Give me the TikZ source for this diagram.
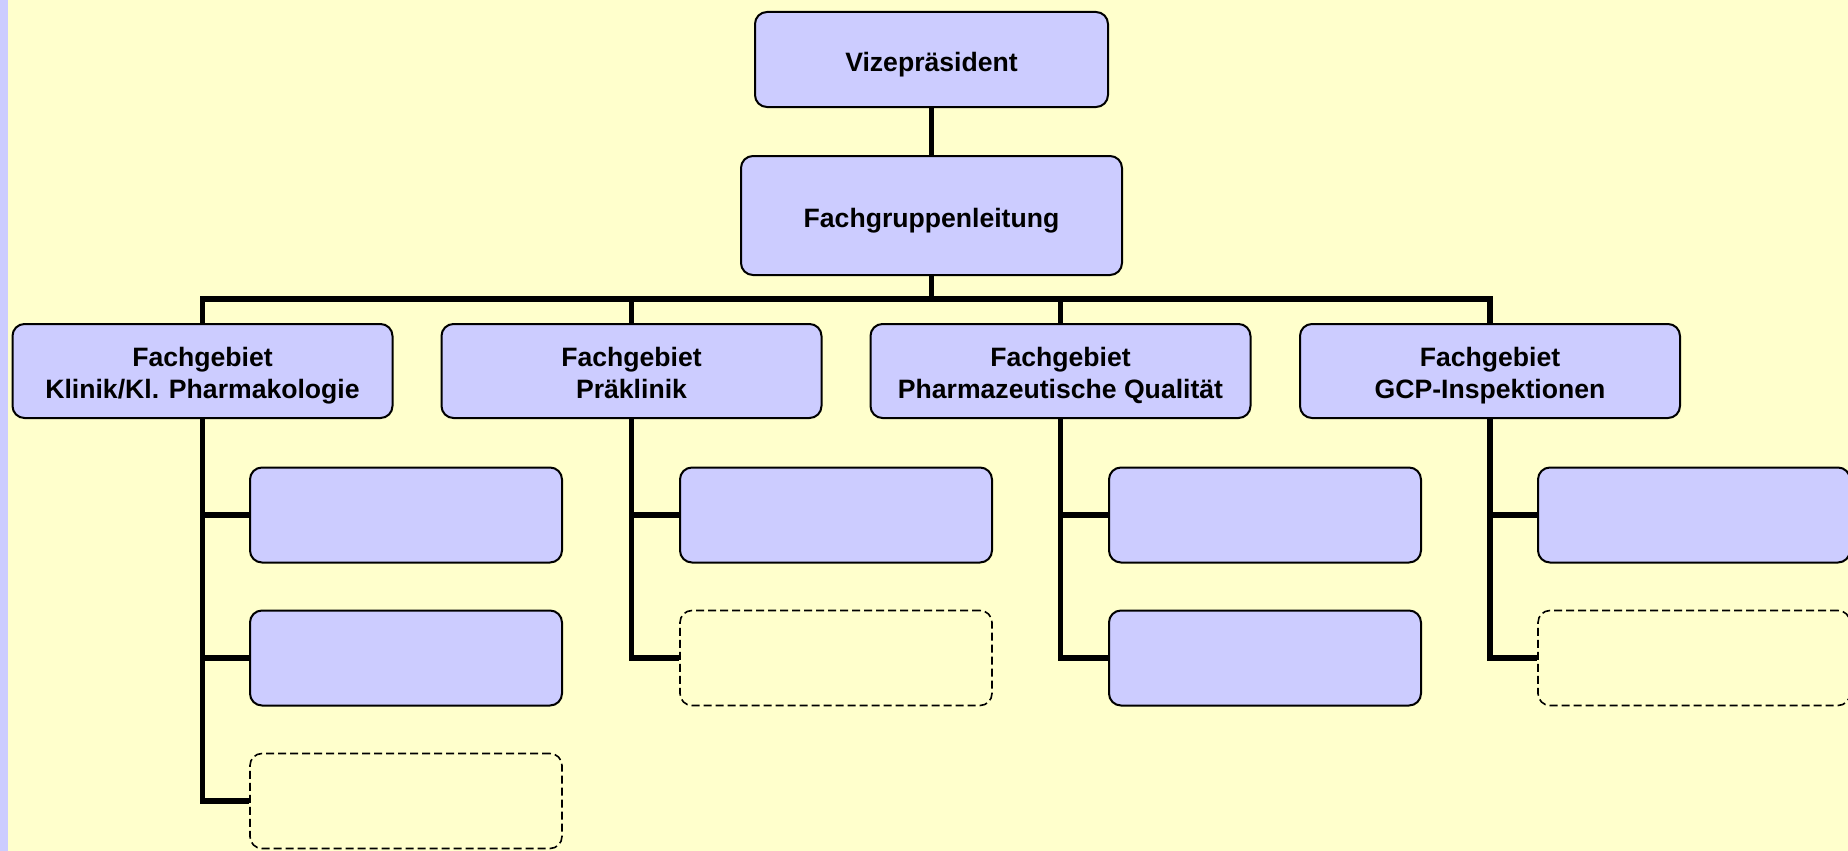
\documentclass[tikz,border=0pt]{standalone}
\usepackage{fontspec}
\setmainfont{Liberation Sans}
\definecolor{boxfill}{HTML}{CCCCFF}
\definecolor{bgyellow}{HTML}{FFFFCC}
\newcommand\onestrut{\rule[-7pt]{0pt}{37pt}}
\newcommand\topstrut{\rule[-7pt]{0pt}{36pt}}
\newcommand\botstrut{\rule[-7pt]{0pt}{32pt}}
\begin{document}
\begin{tikzpicture}[x=1pt,y=-1pt,
  every node/.style={font=\fontsize{26.6}{32}\selectfont\bfseries, align=center, inner sep=0pt},
  orgbox/.style={draw=black, line width=2pt, fill=boxfill, rounded corners=12pt, rectangle},
  topbox/.style={orgbox, minimum width=353pt, minimum height=95pt},
  headbox/.style={orgbox, minimum width=381pt, minimum height=119pt},
  areabox/.style={orgbox, minimum width=380pt, minimum height=94pt},
  unitbox/.style={orgbox, minimum width=312pt, minimum height=95pt},
  emptybox/.style={draw=black, line width=1.6pt, dash pattern=on 8pt off 4pt, rounded corners=12pt, rectangle, minimum width=312pt, minimum height=95pt},
  conn/.style={draw=black, line width=5.5pt, line join=miter}
]
\useasboundingbox (0,0) rectangle (1848,851);
\fill[bgyellow] (0,0) rectangle (1848,851);
\fill[boxfill] (0,0) rectangle (8,851);

\node[topbox] (viz) at (931.5,59.5) {\onestrut Vizepräsident};
\node[headbox] (fgl) at (931.5,215.5) {\onestrut Fachgruppenleitung};

\node[areabox] (k) at (202.5,371) {\topstrut Fachgebiet\\\botstrut Klinik/Kl. Pharmakologie};
\node[areabox] (p) at (631.5,371) {\topstrut Fachgebiet\\\botstrut Präklinik};
\node[areabox] (q) at (1060.5,371) {\topstrut Fachgebiet\\\botstrut Pharmazeutische Qualität};
\node[areabox] (g) at (1490,371) {\topstrut Fachgebiet\\\botstrut GCP-Inspektionen};

\node[unitbox] (k1) at (406,515) {};
\node[unitbox] (k2) at (406,658) {};
\node[emptybox] (k3) at (406,801) {};

\node[unitbox] (p1) at (836,515) {};
\node[emptybox] (p2) at (836,658) {};

\node[unitbox] (q1) at (1265,515) {};
\node[unitbox] (q2) at (1265,658) {};

\node[unitbox] (g1) at (1694,515) {};
\node[emptybox] (g2) at (1694,658) {};

\coordinate (busy) at (0,299);

\draw[conn] (viz.south) -- (fgl.north);
\draw[conn] (fgl.south) -- (fgl.south |- busy);
\draw[conn] (k.north) -- (k.north |- busy) -- (g.north |- busy) -- (g.north);
\draw[conn] (p.north) -- (p.north |- busy);
\draw[conn] (q.north) -- (q.north |- busy);

\draw[conn] (k.south) |- (k1.west);
\draw[conn] (k.south) |- (k2.west);
\draw[conn] (k.south) |- (k3.west);

\draw[conn] (p.south) |- (p1.west);
\draw[conn] (p.south) |- (p2.west);

\draw[conn] (q.south) |- (q1.west);
\draw[conn] (q.south) |- (q2.west);

\draw[conn] (g.south) |- (g1.west);
\draw[conn] (g.south) |- (g2.west);
\end{tikzpicture}
\end{document}
